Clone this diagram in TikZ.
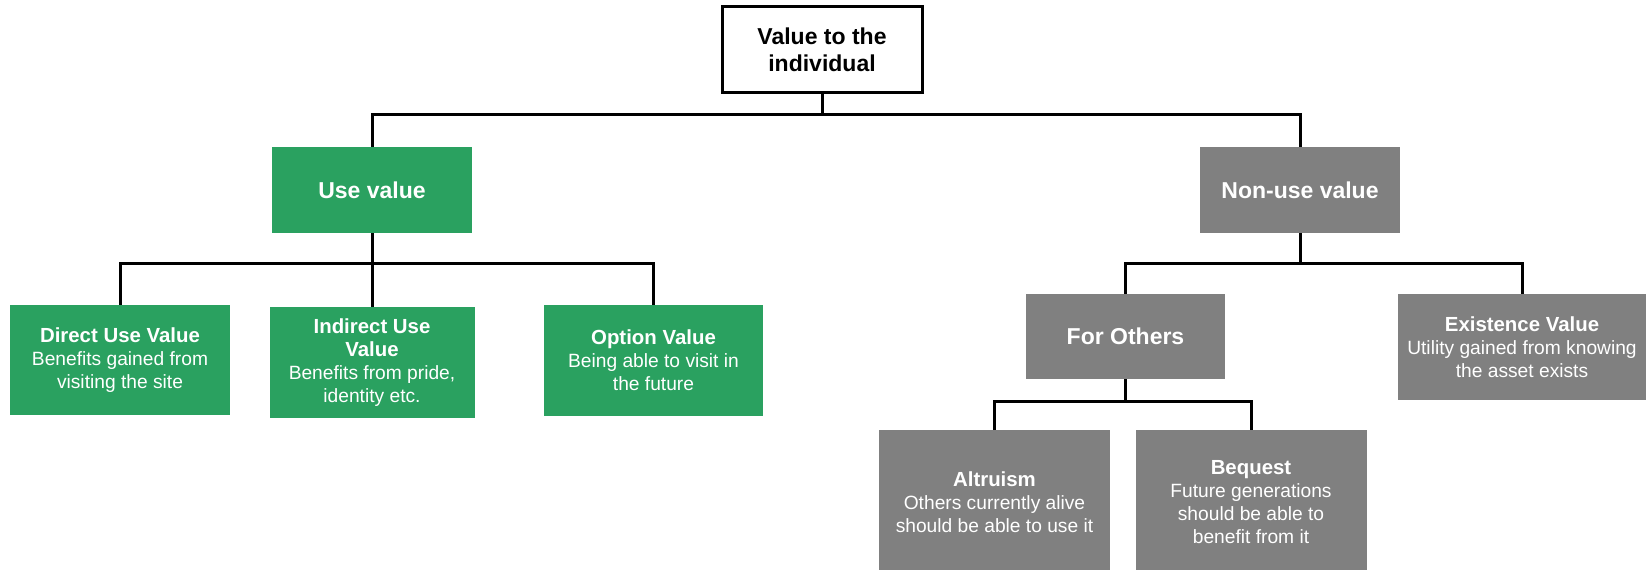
\documentclass[tikz,border=0pt]{standalone}
\usepackage{fontspec}
\setmainfont{Liberation Sans}
\usepackage{xcolor}
\usetikzlibrary{positioning}

\definecolor{usegreen}{RGB}{42,161,96}
\definecolor{nonusegrey}{RGB}{128,128,128}
\newcommand{\leaftitle}[1]{{\fontsize{10.2}{11.5}\selectfont\bfseries #1}}

\begin{document}
\begin{tikzpicture}[
    x=0.5pt, y=0.5pt,
    on grid,
    link/.style={line width=1.5pt, black},
    valuebox/.style={rectangle, align=center, inner sep=2pt, text=white},
    rootbox/.style={valuebox, draw=black, line width=1.5pt, fill=white, text=black,
        minimum width=100pt, minimum height=43pt, font=\fontsize{11.5}{13.5}\selectfont\bfseries},
    mainbox/.style={valuebox, minimum width=100pt, minimum height=43pt,
        font=\fontsize{11.5}{13.5}\selectfont\bfseries},
    leafbox/.style={valuebox, font=\fontsize{9.6}{11.5}\selectfont}
]
    \useasboundingbox (0,0) rectangle (1646,569);

    % Define nodes
    \node[rootbox] (root) at (822,519) {Value to the\\individual};
    \node[mainbox, fill=usegreen, below left=70pt and 225pt of root] (use_value) {Use value};
    \node[mainbox, fill=nonusegrey, below right=70pt and 239pt of root] (non_use) {Non-use value};

    \node[leafbox, fill=usegreen, minimum width=110pt, minimum height=55pt,
        below left=85pt and 126pt of use_value] (direct_use)
        {\leaftitle{Direct Use Value}\\Benefits gained from\\visiting the site};
    \node[leafbox, fill=usegreen, minimum width=102.5pt, minimum height=55.5pt,
        below=86.25pt of use_value] (indirect_use)
        {\leaftitle{Indirect Use}\\\leaftitle{Value}\\Benefits from pride,\\identity etc.};
    \node[leafbox, fill=usegreen, minimum width=109.5pt, minimum height=55.5pt,
        below right=85.25pt and 140.75pt of use_value] (option)
        {\leaftitle{Option Value}\\Being able to visit in\\the future};

    \node[mainbox, fill=nonusegrey, minimum width=99.5pt, minimum height=42.5pt,
        below left=73.25pt and 87.25pt of non_use] (for_others) {For Others};
    \node[leafbox, fill=nonusegrey, minimum width=124pt, minimum height=53pt,
        below right=78.5pt and 111pt of non_use] (existence)
        {\leaftitle{Existence Value}\\Utility gained from knowing\\the asset exists};

    \node[leafbox, fill=nonusegrey, minimum width=115.5pt, minimum height=72pt,
        below left=82.75pt and 65.5pt of for_others] (altruism)
        {\leaftitle{Altruism}\\Others currently alive\\should be able to use it};
    \node[leafbox, fill=nonusegrey, minimum width=115.5pt, minimum height=72pt,
        below right=82.75pt and 62.75pt of for_others] (bequest)
        {\leaftitle{Bequest}\\Future generations\\should be able to\\benefit from it};

    % Connections
    \draw[link] (root.south) -- ++(0,-10pt) coordinate (root_bar);
    \draw[link] (use_value.north) |- (root_bar) -| (non_use.north);

    \draw[link] (use_value.south) -- ++(0,-15pt) coordinate (use_bar);
    \draw[link] (direct_use.north) |- (use_bar) -| (option.north);
    \draw[link] (use_bar) -- (use_bar -| indirect_use.north) -- (indirect_use.north);

    \draw[link] (non_use.south) -- ++(0,-15pt) coordinate (non_use_bar);
    \draw[link] (for_others.north) |- (non_use_bar) -| (existence.north);

    \draw[link] (for_others.south) -- ++(0,-11pt) coordinate (others_bar);
    \draw[link] (altruism.north) |- (others_bar) -| (bequest.north);
\end{tikzpicture}
\end{document}
